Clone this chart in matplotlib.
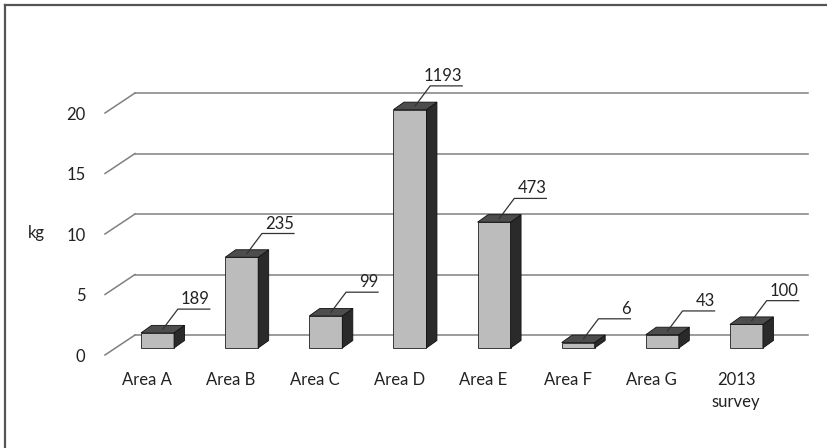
import numpy as np
import matplotlib
import matplotlib.pyplot as plt
from matplotlib.patches import Polygon
from matplotlib.lines import Line2D
matplotlib.use('Agg')

plt.rcParams['font.family'] = ['Lato', 'DejaVu Sans']

# data
categories = ['Area A', 'Area B', 'Area C', 'Area D', 'Area E', 'Area F', 'Area G', '2013\nsurvey']
weights_kg = [1.25, 7.5, 2.65, 19.7, 10.4, 0.45, 1.1, 1.95]
counts = ['189', '235', '99', '1193', '473', '6', '43', '100']
y_ticks = [0, 5, 10, 15, 20]

W, H = 827, 448
fig = plt.figure(figsize=(W / 100, H / 100), dpi=100)

# front plane of the 3d box in pixels
x0_px, x1_px = 105, 778
y0_px, px_per_kg = 355, 12.1
ymax = 22
ax = fig.add_axes([x0_px / W, (H - y0_px) / H, (x1_px - x0_px) / W, ymax * px_per_kg / H])
ax.set_xlim(-0.5, len(categories) - 0.5)
ax.set_ylim(0, ymax)

# pixel -> data unit helpers
sx = len(categories) / (x1_px - x0_px)
sy = 1.0 / px_per_kg

grid_col = '#808080'
wall_dx, wall_dy = 30 * sx, 20 * sy
wall_right = -0.5 + (808 - x0_px) * sx
for v in y_ticks:
    ax.plot([-0.5, -0.5 + wall_dx], [v, v + wall_dy], color=grid_col, lw=1.1, clip_on=False, zorder=1)
    ax.plot([-0.5 + wall_dx, wall_right], [v + wall_dy, v + wall_dy], color=grid_col, lw=1.1,
            clip_on=False, zorder=1)

# bars with fake depth
front_dx, front_dy = 10.5 * sx, 7 * sy
depth_dx, depth_dy = 10.5 * sx, 7.5 * sy
half_w = 16.5 * sx
for i, (v, lab) in enumerate(zip(weights_kg, counts)):
    cx = i + front_dx
    b = front_dy
    t = front_dy + v
    l, r = cx - half_w, cx + half_w
    front = Polygon([(l, b), (r, b), (r, t), (l, t)], closed=True, fc='#bcbcbc', ec='#202020',
                    lw=0.6, zorder=3, clip_on=False)
    side = Polygon([(r, b), (r + depth_dx, b + depth_dy), (r + depth_dx, t + depth_dy), (r, t)],
                   closed=True, fc='#2a2a2a', ec='#111111', lw=0.6, zorder=3, clip_on=False)
    top = Polygon([(l, t), (r, t), (r + depth_dx, t + depth_dy), (l + depth_dx, t + depth_dy)],
                  closed=True, fc='#4d4d4d', ec='#111111', lw=0.6, zorder=3, clip_on=False)
    for p in (front, side, top):
        ax.add_patch(p)

    # leader line and count label
    sx0 = cx + depth_dx / 2
    sy0 = t + depth_dy / 2
    ex, ey = sx0 + 15 * sx, sy0 + 20 * sy
    hx = ex + 32 * sx
    ax.plot([sx0, ex, hx], [sy0, ey, ey], color='#333333', lw=0.9, clip_on=False, zorder=4)
    ax.text(hx, ey + 2 * sy, lab, ha='right', va='bottom', fontsize=12, color='#222222', zorder=4)

ax.set_xticks(range(len(categories)))
ax.set_xticklabels(categories, linespacing=1.45)
ax.set_yticks(y_ticks)
ax.tick_params(axis='x', length=0, pad=12, labelsize=12, labelcolor='#222222')
ax.tick_params(axis='y', length=0, pad=14, labelsize=12, labelcolor='#222222')
for s in ax.spines.values():
    s.set_visible(False)
ax.patch.set_alpha(0)

fig.text(36 / W, 1 - 233 / H, 'kg', ha='center', va='center', fontsize=12, color='#222222')

# scanned frame: top and left edge only
fig.add_artist(Line2D([5 / W, 1], [1 - 5 / H, 1 - 5 / H], color='#555555', lw=1.6))
fig.add_artist(Line2D([5 / W, 5 / W], [0, 1 - 5 / H], color='#555555', lw=1.6))

fig.savefig('out.png', dpi=100)
